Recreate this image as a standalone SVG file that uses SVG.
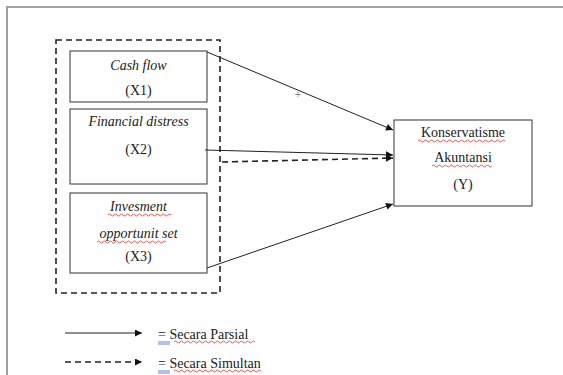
<svg xmlns="http://www.w3.org/2000/svg" width="563" height="375" viewBox="0 0 563 375">
<style>
.frame{fill:none;stroke:#a0a0a0;stroke-width:2}
.box{fill:#fff;stroke:#333;stroke-width:1}
.grp{fill:none;stroke:#222;stroke-width:1.6;stroke-dasharray:6,4}
.t{font-family:"Liberation Serif","Times New Roman",serif;font-size:14px;fill:#1a1a1a;text-anchor:middle}
.i{font-style:italic}
.l{text-anchor:start}
.s{stroke:#222;stroke-width:1;fill:none}
.d{stroke:#222;stroke-width:1.6;fill:none;stroke-dasharray:6,4}
.w{stroke:#e03030;stroke-width:0.8;fill:none}
.u{stroke:#4060d0;stroke-width:0.8}
</style>
<defs>
<marker id="ah" viewBox="0 0 10 10" refX="10" refY="5" markerWidth="8" markerHeight="7" markerUnits="userSpaceOnUse" orient="auto"><path d="M0,0 L10,5 L0,10 z" fill="#111"/></marker>
</defs>
<rect width="563" height="375" fill="#fff"/>
<path class="frame" d="M7,375 V7 H563"/>
<g id="group-x"><rect class="grp" x="56" y="40" width="164" height="253"/></g>
<g id="x1">
<rect class="box" x="70" y="51" width="137" height="51"/>
<text class="t i" x="138.5" y="70">Cash flow</text>
<text class="t" x="138.5" y="95">(X1)</text>
</g>
<g id="x2">
<rect class="box" x="70" y="109" width="137" height="75"/>
<text class="t i" x="138.5" y="126">Financial distress</text>
<text class="t" x="138.5" y="154">(X2)</text>
</g>
<g id="x3">
<rect class="box" x="70" y="193" width="137" height="80"/>
<text class="t i" x="138.5" y="211">Invesment</text>
<text class="t i" x="138.5" y="238">opportunit set</text>
<text class="t" x="138.5" y="261">(X3)</text>
<path class="w" d="M108,215 q1.5,-2 3,0 t3,0 t3,0 t3,0 t3,0 t3,0 t3,0 t3,0 t3,0 t3,0 t3,0 t3,0 t3,0 t3,0 t3,0 t3,0 t3,0 t3,0 t3,0 t3,0 t3,0"/>
<path class="w" d="M97,242 q1.5,-2 3,0 t3,0 t3,0 t3,0 t3,0 t3,0 t3,0 t3,0 t3,0 t3,0 t3,0 t3,0 t3,0 t3,0 t3,0 t3,0 t3,0 t3,0 t3,0 t3,0 t3,0 t3,0 t3,0"/>
</g>
<g id="y">
<rect class="box" x="394" y="120" width="138" height="86"/>
<text class="t" x="463" y="137">Konservatisme</text>
<text class="t" x="463" y="162">Akuntansi</text>
<text class="t" x="463" y="189">(Y)</text>
<path class="w" d="M418,141 q1.5,-2 3,0 t3,0 t3,0 t3,0 t3,0 t3,0 t3,0 t3,0 t3,0 t3,0 t3,0 t3,0 t3,0 t3,0 t3,0 t3,0 t3,0 t3,0 t3,0 t3,0 t3,0 t3,0 t3,0 t3,0 t3,0 t3,0 t3,0 t3,0 t3,0"/>
<path class="w" d="M432,166 q1.5,-2 3,0 t3,0 t3,0 t3,0 t3,0 t3,0 t3,0 t3,0 t3,0 t3,0 t3,0 t3,0 t3,0 t3,0 t3,0 t3,0 t3,0 t3,0 t3,0 t3,0"/>
</g>
<g id="connectors">
<path class="s" d="M207,52 L393,130" marker-end="url(#ah)"/>
<path class="s" d="M205,150 L393,155" marker-end="url(#ah)"/>
<path class="d" d="M222,162 L393,158" marker-end="url(#ah)"/>
<path class="s" d="M207,268 L393,204" marker-end="url(#ah)"/>
<text x="298" y="98" font-family="Liberation Sans,Arial,sans-serif" font-size="11" fill="#888" text-anchor="middle">+</text>
</g>
<g id="legend">
<path class="s" d="M65,333 L142,333" marker-end="url(#ah)"/>
<path class="d" d="M65,362 L142,362" marker-end="url(#ah)"/>
<text class="t l" x="158" y="339">= Secara Parsial</text>
<text class="t l" x="158" y="368">= Secara Simultan</text>
<line class="u" x1="158" y1="342" x2="170" y2="342"/><line class="u" x1="158" y1="344" x2="170" y2="344"/>
<line class="u" x1="158" y1="371" x2="170" y2="371"/><line class="u" x1="158" y1="373" x2="170" y2="373"/>
<path class="w" d="M174,342 q1.5,-2 3,0 t3,0 t3,0 t3,0 t3,0 t3,0 t3,0 t3,0 t3,0 t3,0 t3,0 t3,0 t3,0 t3,0 t3,0 t3,0 t3,0 t3,0 t3,0 t3,0 t3,0 t3,0 t3,0 t3,0 t3,0 t3,0 t3,0"/>
<path class="w" d="M174,371 q1.5,-2 3,0 t3,0 t3,0 t3,0 t3,0 t3,0 t3,0 t3,0 t3,0 t3,0 t3,0 t3,0 t3,0 t3,0 t3,0 t3,0 t3,0 t3,0 t3,0 t3,0 t3,0 t3,0 t3,0 t3,0 t3,0 t3,0 t3,0 t3,0 t3,0"/>
</g>
</svg>
